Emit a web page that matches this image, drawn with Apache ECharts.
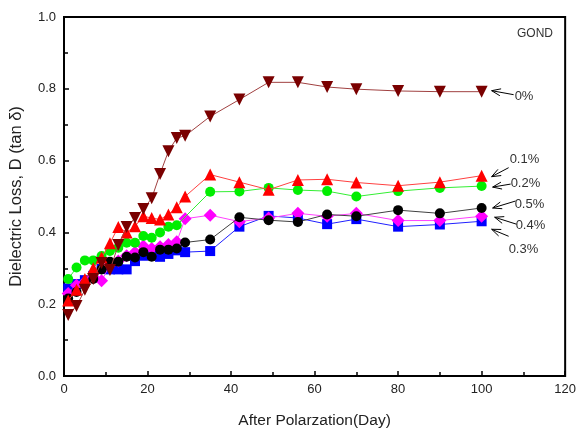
<!DOCTYPE html>
<html>
<head>
<meta charset="utf-8">
<script src="https://cdn.jsdelivr.net/npm/echarts@6/dist/echarts.min.js"></script>
<style>html,body{margin:0;padding:0;background:#fff}#c{width:579px;height:434px}</style>
</head>
<body>
<div id="c"></div>
<script>
// ---- data ----
const seriesNames = ['0%', '0.1%', '0.2%', '0.5%', '0.4%', '0.3%'];
const daysA = [1,3,5,7,9,11,13,15,17,19,21,23,25,27,29,35,42,49,56,63,70,80,90,100];
const daysB = [1,3,5,7,9,11,13,15,17,19,21,23,25,27,35,42,49,56,63,70,80,90,100];
const v0  = [0.17,0.195,0.24,0.27,0.315,0.295,0.365,0.415,0.44,0.465,0.495,0.563,0.626,0.663,0.669,0.723,0.77,0.818,0.818,0.805,0.799,0.794,0.792,0.792];
const v01 = [0.21,0.24,0.27,0.30,0.33,0.37,0.415,0.40,0.417,0.445,0.44,0.436,0.45,0.47,0.50,0.561,0.54,0.519,0.546,0.548,0.539,0.53,0.54,0.558];
const v02 = [0.27,0.302,0.322,0.322,0.334,0.348,0.357,0.371,0.371,0.39,0.385,0.40,0.416,0.42,0.513,0.514,0.524,0.518,0.515,0.50,0.515,0.524,0.529];
const v05 = [0.216,0.234,0.256,0.27,0.297,0.318,0.318,0.332,0.33,0.345,0.332,0.352,0.352,0.355,0.372,0.38,0.442,0.434,0.429,0.45,0.445,0.462,0.453,0.468];
const v04 = [0.23,0.253,0.262,0.275,0.265,0.31,0.32,0.335,0.345,0.362,0.355,0.36,0.366,0.374,0.438,0.448,0.43,0.44,0.453,0.445,0.453,0.433,0.433,0.445];
const v03 = [0.244,0.256,0.267,0.279,0.298,0.297,0.297,0.297,0.32,0.335,0.34,0.332,0.34,0.35,0.345,0.348,0.416,0.446,0.44,0.423,0.437,0.416,0.422,0.431];
const xTicks = [0,20,40,60,80,100,120];
const yTicks = [0.0,0.2,0.4,0.6,0.8,1.0];

// ---- styles ----
const styles = [
  {days: daysA, vals: v0,  marker: '#7a0000', line: '#a04040', symbol: 'triangle', rotate: 180, size: 12},
  {days: daysA, vals: v01, marker: '#ff0000', line: '#ff4040', symbol: 'triangle', rotate: 0, size: 12},
  {days: daysB, vals: v02, marker: '#00ee00', line: '#33ee33', symbol: 'circle', rotate: 0, size: 10},
  {days: daysA, vals: v05, marker: '#000000', line: '#404040', symbol: 'circle', rotate: 0, size: 10},
  {days: daysA, vals: v04, marker: '#ff00ff', line: '#ff40ff', symbol: 'diamond', rotate: 0, size: 13},
  {days: daysA, vals: v03, marker: '#0000ff', line: '#2020ff', symbol: 'rect', rotate: 0, size: 10}
];
// annotation offsets relative to last point: arrow tip, arrow tail, text left/center
const annot = [
  {tip:[10,-1], tail:[32,3], text:[33,5]},
  {tip:[10,1], tail:[27,-8], text:[28,-16]},
  {tip:[11,1], tail:[29,-2], text:[29,-3]},
  {tip:[11,0], tail:[34,-7], text:[33,-4]},
  {tip:[13,1], tail:[35,8], text:[34,9]},
  {tip:[10,8], tail:[27,15], text:[27,28]}
];

const chart = echarts.init(document.getElementById('c'), null, {renderer: 'canvas'});
const FONT = 'Liberation Sans, Arial, sans-serif';

const series = styles.map((s, i) => ({
  name: seriesNames[i],
  type: 'line',
  data: s.days.map((d, k) => [d, s.vals[k]]),
  symbol: s.symbol,
  symbolRotate: s.rotate,
  symbolSize: s.size,
  showAllSymbol: true,
  itemStyle: {color: s.marker, borderWidth: 0},
  lineStyle: {color: s.line, width: 1},
  animation: false,
  z: 10 - i
}));

chart.setOption({
  animation: false,
  grid: {left: 64, right: 8, top: 17, bottom: 57, show: true, borderColor: '#000', borderWidth: 2, backgroundColor: 'transparent'},
  xAxis: {
    type: 'value', min: xTicks[0], max: xTicks[xTicks.length-1], interval: 20,
    axisLine: {show: true, onZero: false, lineStyle: {color: '#000', width: 2}},
    axisTick: {show: true, inside: true, length: 5, lineStyle: {color: '#000', width: 1.5}},
    minorTick: {show: true, splitNumber: 2, length: 4, lineStyle: {color: '#000', width: 1.5}},
    splitLine: {show: false},
    axisLabel: {color: '#222', fontSize: 13, fontFamily: FONT, margin: 7},
    name: 'After Polarzation(Day)', nameLocation: 'middle', nameGap: 37,
    nameTextStyle: {color: '#222', fontSize: 15.5, fontFamily: FONT}
  },
  yAxis: {
    type: 'value', min: yTicks[0], max: yTicks[yTicks.length-1], interval: 0.2,
    axisLine: {show: true, onZero: false, lineStyle: {color: '#000', width: 2}},
    axisTick: {show: true, inside: true, length: 5, lineStyle: {color: '#000', width: 1.5}},
    minorTick: {show: true, splitNumber: 2, length: 4, lineStyle: {color: '#000', width: 1.5}},
    splitLine: {show: false},
    axisLabel: {color: '#222', fontSize: 13, fontFamily: FONT, margin: 8, formatter: v => v.toFixed(1)},
    name: 'Dielectric Loss, D (tan δ)', nameLocation: 'middle', nameGap: 39,
    nameTextStyle: {color: '#222', fontSize: 16.5, fontFamily: FONT}
  },
  series: series
});

// annotations anchored to last point of each series
const gfx = [];
styles.forEach((s, i) => {
  const n = s.days.length - 1;
  const p = chart.convertToPixel({gridIndex: 0}, [s.days[n], s.vals[n]]);
  const a = annot[i];
  const tip = [p[0] + a.tip[0], p[1] + a.tip[1]];
  const tail = [p[0] + a.tail[0], p[1] + a.tail[1]];
  const dx = tail[0] - tip[0], dy = tail[1] - tip[1];
  const L = Math.hypot(dx, dy), ux = dx / L, uy = dy / L;
  const hl = 9, hw = 3.5;
  const h1 = [tip[0] + ux*hl - uy*hw, tip[1] + uy*hl + ux*hw];
  const h2 = [tip[0] + ux*hl + uy*hw, tip[1] + uy*hl - ux*hw];
  gfx.push({type: 'polyline', shape: {points: [tail, tip]}, style: {stroke: '#000', lineWidth: 1, fill: null}, z: 100});
  gfx.push({type: 'polyline', shape: {points: [h1, tip, h2]}, style: {stroke: '#000', lineWidth: 1, fill: null}, z: 100});
  gfx.push({type: 'text', x: p[0] + a.text[0], y: p[1] + a.text[1],
    style: {text: seriesNames[i], fill: '#333', font: '13px ' + FONT, verticalAlign: 'middle'}, z: 100});
});
gfx.push({type: 'text', x: 535, y: 34, style: {text: 'GOND', fill: '#333', font: '12px ' + FONT, align: 'center', verticalAlign: 'middle'}, z: 100});
chart.setOption({graphic: gfx});
</script>
</body>
</html>
